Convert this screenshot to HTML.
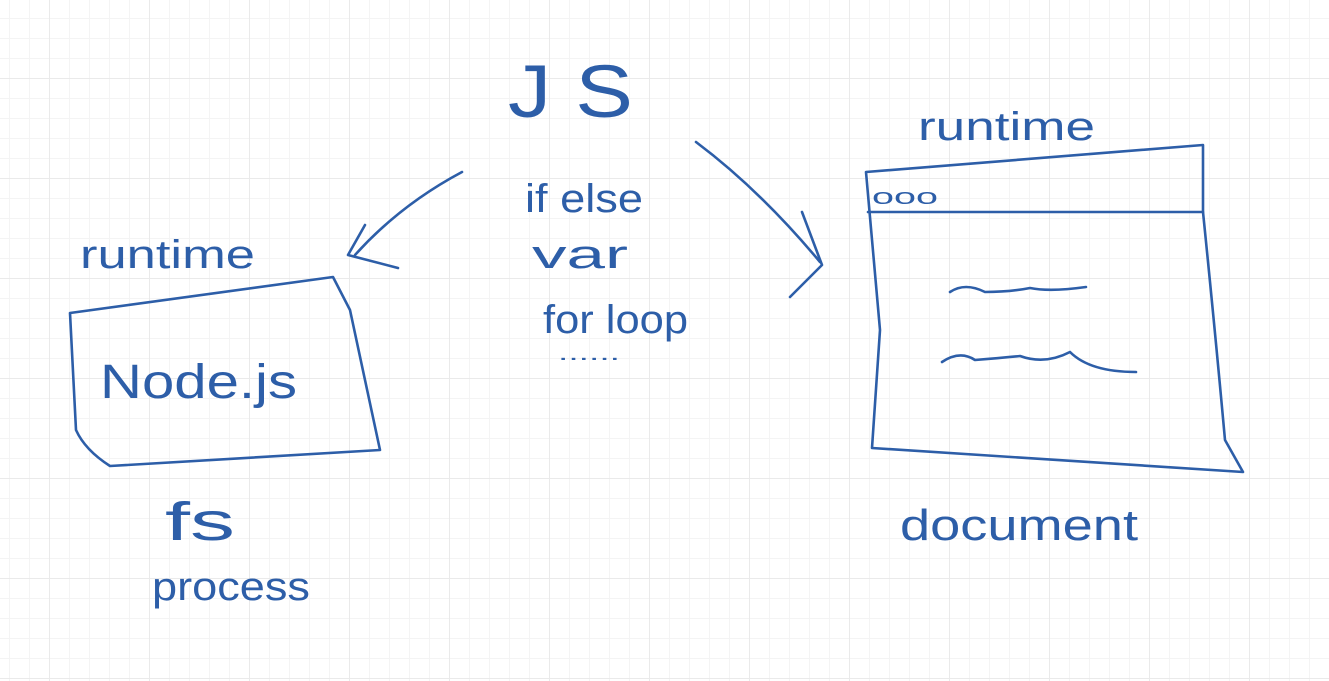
<!DOCTYPE html>
<html><head><meta charset="utf-8"><style>
html,body{margin:0;padding:0;background:#fff;}
svg{display:block;}
text{font-family:"Liberation Sans",sans-serif;fill:#2d5ea8;}
</style></head><body>
<svg width="1329" height="681" viewBox="0 0 1329 681" xmlns="http://www.w3.org/2000/svg">
<defs>
<pattern id="g" x="9" y="18" width="20" height="20" patternUnits="userSpaceOnUse">
<path d="M0 0V20M0 0H20" stroke="#f4f4f4" stroke-width="2" fill="none"/>
</pattern>
<pattern id="G" x="49" y="78" width="100" height="100" patternUnits="userSpaceOnUse">
<path d="M0 0V100M0 0H100" stroke="#eaeaea" stroke-width="2" fill="none"/>
</pattern>
</defs>
<rect width="1329" height="681" fill="url(#g)"/>
<rect width="1329" height="681" fill="url(#G)"/>
<g fill="none" stroke="#2d5ea8" stroke-width="2.6" stroke-linecap="round" stroke-linejoin="round">
<path d="M70 313 L333 277 L350 310 L380 450 L110 466 Q85 450 76 430 L70 313"/>
<path d="M462 172 Q400 205 355 255"/>
<path d="M365 225 L348 255 L398 268"/>
<path d="M696 142 Q760 190 820 262"/>
<path d="M802 212 L822 265 L790 297"/>
<path d="M866 172 L1203 145 L1203 212 Q1215 330 1225 440 L1243 472 L872 448 L880 330 L866 172"/>
<path d="M868 212 L1203 212"/>
<path d="M950 292 Q965 282 985 292 Q1010 292 1030 288 Q1050 292 1086 287"/>
<path d="M942 362 Q960 350 975 360 Q1000 358 1020 356 Q1045 365 1070 352 Q1090 372 1136 372"/>
</g>
<text x="508" y="117" font-size="74" textLength="125" lengthAdjust="spacingAndGlyphs">J S</text>
<text x="525" y="212" font-size="40" textLength="118" lengthAdjust="spacingAndGlyphs">if else</text>
<text x="532" y="268" font-size="40" textLength="96" lengthAdjust="spacingAndGlyphs">var</text>
<text x="543" y="333" font-size="40" textLength="145" lengthAdjust="spacingAndGlyphs">for loop</text>
<text x="558" y="360" font-size="20" textLength="62" lengthAdjust="spacingAndGlyphs">......</text>
<text x="80" y="268" font-size="40" textLength="175" lengthAdjust="spacingAndGlyphs">runtime</text>
<text x="100" y="398" font-size="48" textLength="197" lengthAdjust="spacingAndGlyphs">Node.js</text>
<text x="165" y="540" font-size="54" textLength="70" lengthAdjust="spacingAndGlyphs">fs</text>
<text x="152" y="600" font-size="40" textLength="158" lengthAdjust="spacingAndGlyphs">process</text>
<text x="918" y="140" font-size="40" textLength="177" lengthAdjust="spacingAndGlyphs">runtime</text>
<text x="872" y="204" font-size="22" textLength="66" lengthAdjust="spacingAndGlyphs">ooo</text>
<text x="900" y="540" font-size="44" textLength="238" lengthAdjust="spacingAndGlyphs">document</text>
</svg>
</body></html>
